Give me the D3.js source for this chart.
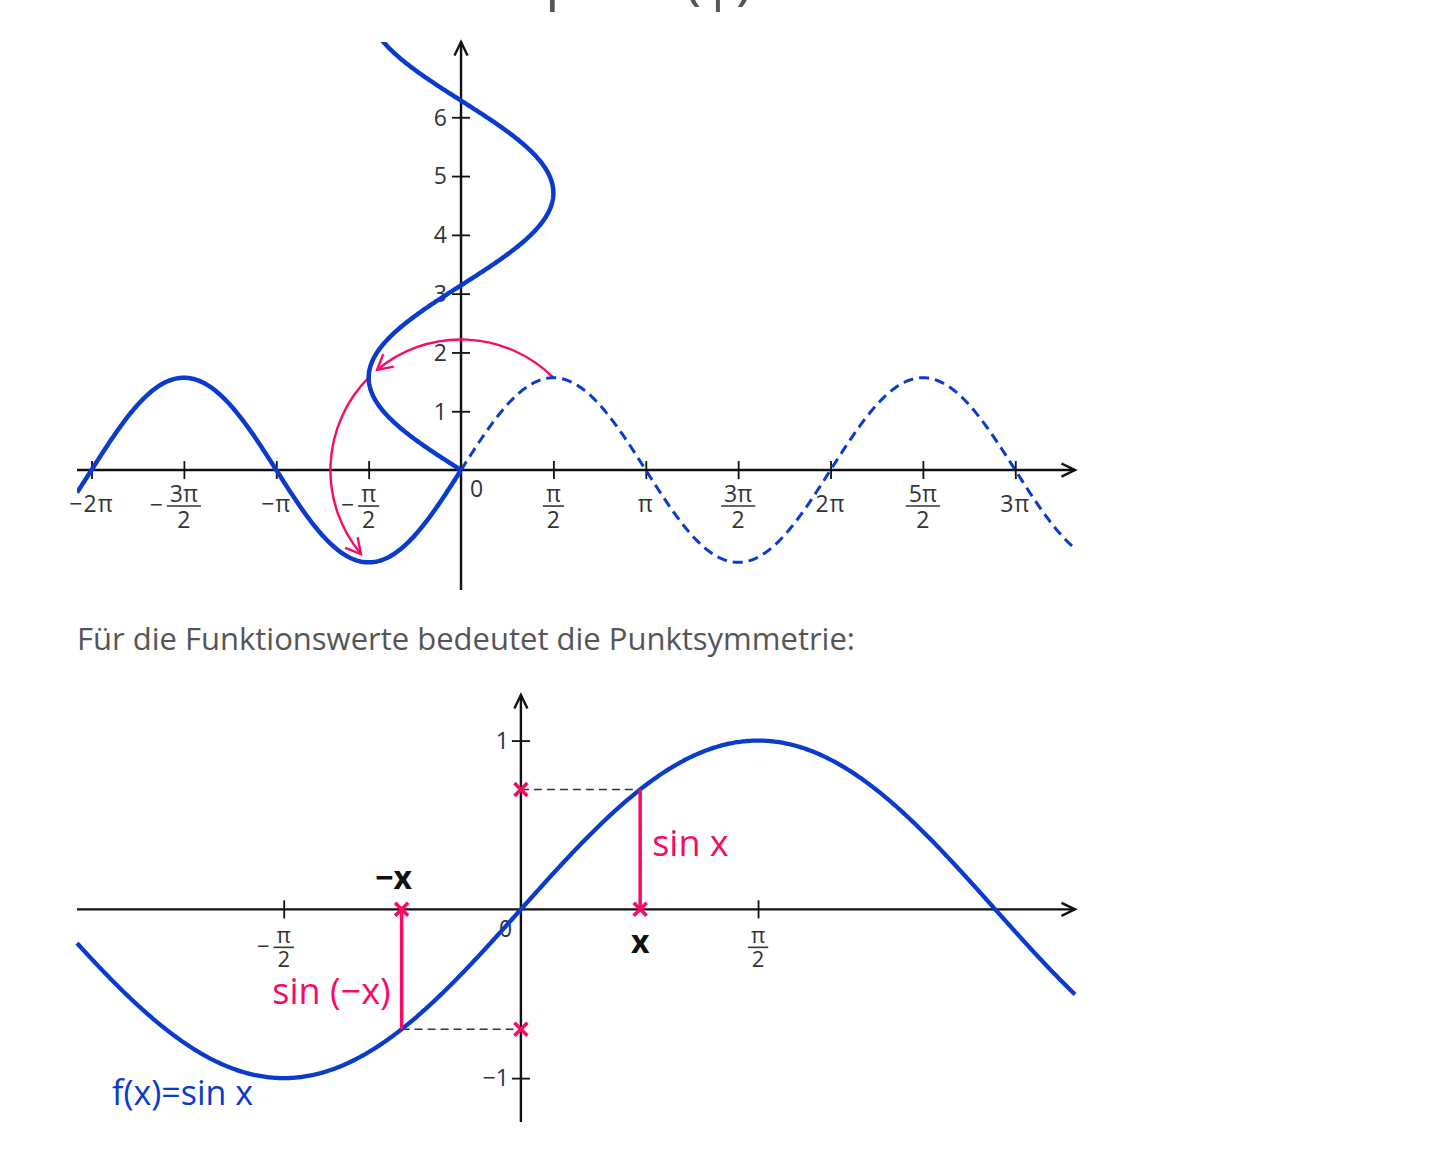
<!DOCTYPE html>
<html>
<head>
<meta charset="utf-8">
<script src="https://cdn.jsdelivr.net/npm/d3@7"></script>
<style>
  html, body { margin: 0; padding: 0; background: #fff; }
  svg { display: block; }
  text { font-family: "Open Sans", "Noto Sans", sans-serif; }
</style>
</head>
<body>
<svg id="chart" width="1434" height="1154"></svg>
<script>
// ---------------- data ----------------
// top chart: sine wave (amplitude) and its copy rotated by 90° about the origin
const topAmplitude = 1.57;
const topXDomain = [-6.53, 10.44];
const topYDomain = [-2.04, 7.28];
const topTickMultiplesOfHalfPi = [-4, -3, -2, -1, 1, 2, 3, 4, 5, 6];
const topTickLabels = ["−2π", "−3π/2", "−π", "−π/2", "π/2", "π", "3π/2", "2π", "5π/2", "3π"];
const topYTicks = [1, 2, 3, 4, 5, 6];
// rotation arrows (angles in degrees, measured counter-clockwise)
const arcStartDeg = [45, 135];
const arcEndDeg = [130, 220];

// bottom chart: f(x) = sin x
const botXDomain = [-2.94, 3.67];
const botYDomain = [-1.26, 1.27];
const botTickMultiplesOfHalfPi = [-1, 1];
const botTickLabels = ["−π/2", "π/2"];
const botYTicks = [-1, 1];
const markX = 0.79;

const sentence = "Für die Funktionswerte bedeutet die Punktsymmetrie:";

// ---------------- style ----------------
const BLUE = "#0a3bcc";
const PINK = "#f80a66";
const INK = "#111";
const LABEL = "#333";

const svg = d3.select("#chart");

// partially visible line of text at the very top (only descenders show)
const topFrag = svg.append("text").attr("y", -2).attr("font-size", 58).attr("fill", "#555");
[["p", 545], ["(", 684], ["|", 702], [")", 736]].forEach(([t, x]) =>
  topFrag.append("tspan").attr("x", x).text(t));

// ---------------- helpers ----------------
function arrowHead(g, tipX, tipY, dx, dy, len, spread, color, width) {
  const n = Math.hypot(dx, dy); dx /= n; dy /= n;
  const rot = (a) => [dx * Math.cos(a) - dy * Math.sin(a), dx * Math.sin(a) + dy * Math.cos(a)];
  const [ax, ay] = rot(spread), [bx, by] = rot(-spread);
  g.append("path")
    .attr("d", `M${tipX - len * ax},${tipY - len * ay}L${tipX},${tipY}L${tipX - len * bx},${tipY - len * by}`)
    .attr("fill", "none").attr("stroke", color).attr("stroke-width", width)
    .attr("stroke-linejoin", "miter").attr("stroke-linecap", "butt");
}

function tickLabel(g, xpos, ybase, label, fontSize, opts = {}) {
  const neg = label.startsWith("−");
  const body = neg ? label.slice(1) : label;
  if (body.includes("/")) {
    const [num, den] = body.split("/");
    const nt = g.append("text").attr("x", xpos).attr("y", ybase + opts.numY)
      .attr("text-anchor", "middle").attr("font-size", fontSize).attr("fill", LABEL).text(num);
    const w = nt.node().getComputedTextLength();
    const half = w / 2 + 3;
    g.append("line").attr("x1", xpos - half).attr("x2", xpos + half)
      .attr("y1", ybase + opts.barY).attr("y2", ybase + opts.barY)
      .attr("stroke", LABEL).attr("stroke-width", 1.6);
    g.append("text").attr("x", xpos).attr("y", ybase + opts.denY)
      .attr("text-anchor", "middle").attr("font-size", fontSize).attr("fill", LABEL).text(den);
    if (neg) {
      g.append("text").attr("x", xpos - half - 4).attr("y", ybase + opts.barY + 7)
        .attr("text-anchor", "end").attr("font-size", fontSize).attr("fill", LABEL).text("−");
    }
  } else {
    g.append("text").attr("x", xpos).attr("y", ybase + opts.plainY)
      .attr("text-anchor", "middle").attr("font-size", fontSize).attr("fill", LABEL)
      .attr("letter-spacing", 1).text(label);
  }
}

// ================= TOP CHART =================
const xT = d3.scaleLinear().domain(topXDomain).range([77, 1075]);
const yT = d3.scaleLinear().domain(topYDomain).range([590, 42]);
const gT = svg.append("g");

svg.append("clipPath").attr("id", "clipTop").append("rect")
  .attr("x", xT.range()[0]).attr("y", yT.range()[1])
  .attr("width", xT.range()[1] - xT.range()[0]).attr("height", yT.range()[0] - yT.range()[1]);

// tick labels
const halfPi = Math.PI / 2;
topTickMultiplesOfHalfPi.forEach((k, i) => {
  tickLabel(gT, xT(k * halfPi), yT(0), topTickLabels[i], 23, { numY: 32, barY: 36, denY: 58, plainY: 42 });
});
gT.append("text").attr("x", xT(0) + 9).attr("y", yT(0) + 27).attr("font-size", 23).attr("fill", LABEL).text("0");
topYTicks.forEach(v => {
  gT.append("text").attr("x", xT(0) - 14).attr("y", yT(v)).attr("dy", "0.36em")
    .attr("text-anchor", "end").attr("font-size", 23).attr("fill", LABEL).text(v);
});

// axes (d3 axes for the tick marks)
const axXT = gT.append("g").attr("transform", `translate(0,${yT(0)})`)
  .call(d3.axisBottom(xT).tickValues(topTickMultiplesOfHalfPi.map(k => k * halfPi)).tickSize(0).tickFormat(""));
axXT.select(".domain").remove();
axXT.selectAll(".tick line").attr("y1", -9).attr("y2", 9).attr("stroke", INK).attr("stroke-width", 1.8);
const axYT = gT.append("g").attr("transform", `translate(${xT(0)},0)`)
  .call(d3.axisLeft(yT).tickValues(topYTicks).tickSize(0).tickFormat(""));
axYT.select(".domain").remove();
axYT.selectAll(".tick line").attr("x1", -9).attr("x2", 9).attr("stroke", INK).attr("stroke-width", 1.8);

gT.append("line").attr("x1", xT.range()[0]).attr("x2", xT.range()[1])
  .attr("y1", yT(0)).attr("y2", yT(0)).attr("stroke", INK).attr("stroke-width", 2.4);
gT.append("line").attr("x1", xT(0)).attr("x2", xT(0))
  .attr("y1", yT.range()[0]).attr("y2", yT.range()[1]).attr("stroke", INK).attr("stroke-width", 2.4);
arrowHead(gT, xT.range()[1], yT(0), 1, 0, 15, 0.45, INK, 2.4);
arrowHead(gT, xT(0), yT.range()[1], 0, -1, 15, 0.45, INK, 2.4);

// pink rotation arcs
const R = Math.hypot(xT(halfPi) - xT(0), yT(0) - yT(topAmplitude));
const cx = xT(0), cy = yT(0);
arcStartDeg.forEach((a0d, i) => {
  const a0 = a0d * Math.PI / 180, a1 = arcEndDeg[i] * Math.PI / 180;
  const p = d3.path();
  p.moveTo(cx + R * Math.cos(a0), cy - R * Math.sin(a0));
  p.arc(cx, cy, R, -a0, -a1, true);
  gT.append("path").attr("d", p.toString()).attr("fill", "none")
    .attr("stroke", PINK).attr("stroke-width", 2.4);
  const tx = cx + R * Math.cos(a1), ty = cy - R * Math.sin(a1);
  arrowHead(gT, tx, ty, -Math.sin(a1), -Math.cos(a1), 17, 0.5, PINK, 2.4);
});

// curves
const curveT = gT.append("g").attr("clip-path", "url(#clipTop)");
const lineT = d3.line().x(d => xT(d[0])).y(d => yT(d[1]));
const sineLeft = d3.range(topXDomain[0], 0.0001, 0.02).map(t => [t, topAmplitude * Math.sin(t)]);
const sineRight = d3.range(0, topXDomain[1] + 0.02, 0.02).map(t => [t, topAmplitude * Math.sin(t)]);
const rotated = sineRight.filter(d => d[0] <= topYDomain[1] + 0.05).map(([t, v]) => [-v, t]);

curveT.append("path").attr("d", lineT(sineRight)).attr("fill", "none")
  .attr("stroke", BLUE).attr("stroke-width", 3).attr("stroke-dasharray", "10,6");
curveT.append("path").attr("d", lineT(sineLeft)).attr("fill", "none")
  .attr("stroke", BLUE).attr("stroke-width", 4.5).attr("stroke-linejoin", "round");
curveT.append("path").attr("d", lineT(rotated)).attr("fill", "none")
  .attr("stroke", BLUE).attr("stroke-width", 4.5).attr("stroke-linejoin", "round");

// ================= SENTENCE =================
svg.append("text").attr("x", 77).attr("y", 650).attr("font-size", 31).attr("fill", "#555").text(sentence);

// ================= BOTTOM CHART =================
const xB = d3.scaleLinear().domain(botXDomain).range([77, 1075]);
const yB = d3.scaleLinear().domain(botYDomain).range([1122, 695]);
const gB = svg.append("g");

botTickMultiplesOfHalfPi.forEach((k, i) => {
  tickLabel(gB, xB(k * halfPi), yB(0), botTickLabels[i], 22, { numY: 34, barY: 38, denY: 58, plainY: 42 });
});
gB.append("text").attr("x", xB(0) - 22).attr("y", yB(0) + 28).attr("font-size", 23).attr("fill", LABEL).text("0");
botYTicks.forEach(v => {
  gB.append("text").attr("x", xB(0) - 12).attr("y", yB(v)).attr("dy", "0.36em")
    .attr("text-anchor", "end").attr("font-size", 23).attr("fill", LABEL).text(v < 0 ? "−" + Math.abs(v) : v);
});

const axXB = gB.append("g").attr("transform", `translate(0,${yB(0)})`)
  .call(d3.axisBottom(xB).tickValues(botTickMultiplesOfHalfPi.map(k => k * halfPi)).tickSize(0).tickFormat(""));
axXB.select(".domain").remove();
axXB.selectAll(".tick line").attr("y1", -9).attr("y2", 9).attr("stroke", INK).attr("stroke-width", 1.8);
const axYB = gB.append("g").attr("transform", `translate(${xB(0)},0)`)
  .call(d3.axisLeft(yB).tickValues(botYTicks).tickSize(0).tickFormat(""));
axYB.select(".domain").remove();
axYB.selectAll(".tick line").attr("x1", -9).attr("x2", 9).attr("stroke", INK).attr("stroke-width", 1.8);

gB.append("line").attr("x1", xB.range()[0]).attr("x2", xB.range()[1])
  .attr("y1", yB(0)).attr("y2", yB(0)).attr("stroke", INK).attr("stroke-width", 2.4);
gB.append("line").attr("x1", xB(0)).attr("x2", xB(0))
  .attr("y1", yB.range()[0]).attr("y2", yB.range()[1]).attr("stroke", INK).attr("stroke-width", 2.4);
arrowHead(gB, xB.range()[1], yB(0), 1, 0, 15, 0.45, INK, 2.4);
arrowHead(gB, xB(0), yB.range()[1], 0, -1, 15, 0.45, INK, 2.4);

// dashed helper lines
const sx = Math.sin(markX);
gB.append("line").attr("x1", xB(0)).attr("x2", xB(markX)).attr("y1", yB(sx)).attr("y2", yB(sx))
  .attr("stroke", "#333").attr("stroke-width", 1.5).attr("stroke-dasharray", "8,5");
gB.append("line").attr("x1", xB(-markX)).attr("x2", xB(0)).attr("y1", yB(-sx)).attr("y2", yB(-sx))
  .attr("stroke", "#333").attr("stroke-width", 1.5).attr("stroke-dasharray", "8,5");

// sine curve
const lineB = d3.line().x(d => xB(d[0])).y(d => yB(d[1]));
const sineB = d3.range(botXDomain[0], botXDomain[1] + 0.01, 0.01).map(t => [t, Math.sin(t)]);
gB.append("path").attr("d", lineB(sineB)).attr("fill", "none")
  .attr("stroke", BLUE).attr("stroke-width", 4.3);

// pink verticals
[markX, -markX].forEach(t => {
  gB.append("line").attr("x1", xB(t)).attr("x2", xB(t)).attr("y1", yB(0)).attr("y2", yB(Math.sin(t)))
    .attr("stroke", PINK).attr("stroke-width", 3.5);
});
// crosses
[[0, sx], [markX, 0], [-markX, 0], [0, -sx]].forEach(([a, b]) => {
  gB.append("path").attr("transform", `translate(${xB(a)},${yB(b)})`)
    .attr("d", "M-6.5,-6.5L6.5,6.5M-6.5,6.5L6.5,-6.5")
    .attr("stroke", PINK).attr("stroke-width", 3.6).attr("fill", "none");
});

// labels
gB.append("text").attr("x", xB(markX) + 12).attr("y", 856).attr("font-size", 36).attr("fill", PINK).text("sin x");
gB.append("text").attr("x", xB(-markX) - 11).attr("y", 1004).attr("text-anchor", "end")
  .attr("font-size", 36).attr("fill", PINK).text("sin (−x)");
gB.append("text").attr("x", xB(-markX) - 8).attr("y", 889).attr("text-anchor", "middle")
  .attr("font-size", 32).attr("font-weight", "bold").attr("fill", INK).text("−x");
gB.append("text").attr("x", xB(markX)).attr("y", 953).attr("text-anchor", "middle")
  .attr("font-size", 32).attr("font-weight", "bold").attr("fill", INK).text("x");
gB.append("text").attr("x", 112).attr("y", 1105).attr("font-size", 34).attr("fill", BLUE).text("f(x)=sin x");
</script>
</body>
</html>
